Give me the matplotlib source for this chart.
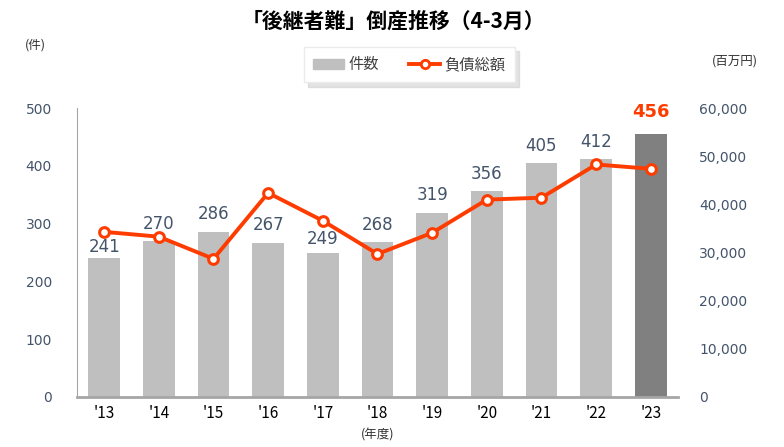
import matplotlib
matplotlib.use('Agg')
import matplotlib.pyplot as plt
from matplotlib.lines import Line2D
from matplotlib.patches import Patch
import numpy as np

years = ["'13", "'14", "'15", "'16", "'17", "'18", "'19", "'20", "'21", "'22", "'23"]
cases = [241, 270, 286, 267, 249, 268, 319, 356, 405, 412, 456]
debt = [34300, 33300, 28700, 42400, 36600, 29700, 34100, 41000, 41400, 48300, 47400]

JP = ['Noto Sans CJK JP', 'DejaVu Sans']
tick_col = '#44546A'
line_col = '#FF3C00'
plt.rcParams['font.family'] = ['DejaVu Sans', 'Noto Sans CJK JP']

fig = plt.figure(figsize=(7.84, 4.47), dpi=100)
ax = fig.add_axes([0.098, 0.112, 0.767, 0.646])
x = np.arange(len(years))
colors = ['#BFBFBF'] * (len(years) - 1) + ['#808080']
ax.bar(x, cases, width=0.58, color=colors, zorder=2)
ax.set_xlim(-0.5, len(years) - 0.5)
ax.set_ylim(0, 500)
ax.set_yticks(range(0, 501, 100))
ax.tick_params(axis='y', length=0, pad=18, labelsize=10, labelcolor=tick_col)
ax.set_xticks(x)
ax.set_xticklabels(years, family=JP, fontsize=11)
ax.tick_params(axis='x', length=0, pad=6)
for s in ['top', 'right']:
    ax.spines[s].set_visible(False)
ax.spines['left'].set_color('#A6A6A6')
ax.spines['bottom'].set_color('#A6A6A6')
ax.spines['bottom'].set_linewidth(2)

# labels: push a couple of them down so they sit just above the bar
near = {0: 1, 4: 4}
for i, v in enumerate(cases):
    if i == len(cases) - 1:
        ax.annotate(str(v), (i, v), xytext=(0, 9), textcoords='offset points',
                    ha='center', va='bottom', fontsize=13, fontweight='bold', color=line_col)
    else:
        ax.annotate(str(v), (i, v), xytext=(0, near.get(i, 6)), textcoords='offset points',
                    ha='center', va='bottom', fontsize=12, color=tick_col)

ax2 = ax.twinx()
ax2.plot(x, debt, color=line_col, lw=2.8, marker='o', ms=7, mfc='white',
         mec=line_col, mew=2.2, zorder=3)
ax2.set_ylim(0, 60000)
ax2.set_yticks(range(0, 60001, 10000))
ax2.set_yticklabels([f'{v:,}' for v in range(0, 60001, 10000)])
ax2.tick_params(axis='y', length=0, pad=15, labelsize=10, labelcolor=tick_col)
for s in ['top', 'right', 'left', 'bottom']:
    ax2.spines[s].set_visible(False)

fig.text(0.502, 0.953, '「後継者難」倒産推移（4-3月）', ha='center', va='center',
         family=JP, fontsize=15, fontweight='bold')
fig.text(0.045, 0.9, '(件)', ha='center', va='center', family=JP, fontsize=9, color='#333333')
fig.text(0.937, 0.864, '(百万円)', ha='center', va='center', family=JP, fontsize=9, color='#333333')
fig.text(0.482, 0.027, '(年度)', ha='center', va='center', family=JP, fontsize=9, color='#333333')

handles = [Patch(color='#BFBFBF'),
           Line2D([], [], color=line_col, lw=2.8, marker='o', ms=6, mfc='white', mec=line_col, mew=2)]
leg = fig.legend(handles, ['件数', '負債総額'], loc='center', bbox_to_anchor=(0.522, 0.855),
                 ncol=2, frameon=True, shadow={'color': '#C8C8C8', 'ox': 3, 'oy': -3},
                 fancybox=False, prop={'family': JP, 'size': 11},
                 handlelength=2.0, handletextpad=0.3, columnspacing=2.0, borderpad=0.6,
                 edgecolor='#EBEBEB')
for t in leg.get_texts():
    t.set_color('#404040')

fig.savefig('out.png', dpi=100)
